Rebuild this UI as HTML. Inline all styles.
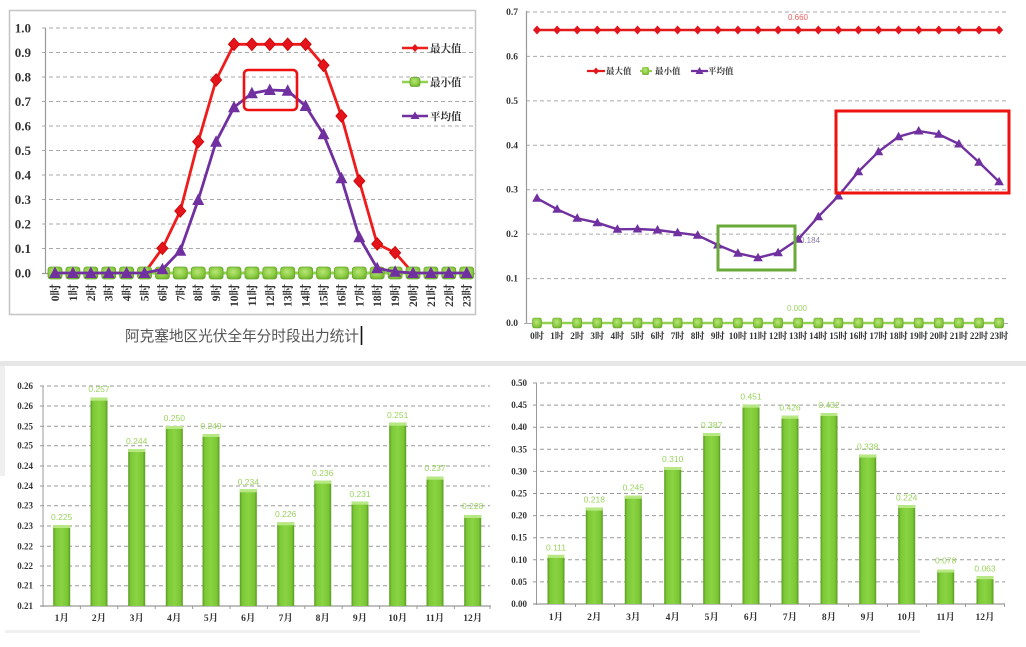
<!DOCTYPE html>
<html><head><meta charset="utf-8"><style>
html,body{margin:0;padding:0;background:#fff;}
svg{display:block;}
.yl{font-family:"Liberation Serif","Noto Serif CJK SC",serif;font-weight:bold;fill:#333;}
.cj{font-family:"Liberation Serif","Noto Serif CJK SC",serif;font-weight:bold;fill:#333;}
.bl{font-family:"Liberation Sans",sans-serif;fill:#9ad35e;font-size:8.5px;text-anchor:middle;}
</style></head><body>
<svg width="1026" height="647" viewBox="0 0 1026 647" xmlns="http://www.w3.org/2000/svg">
<defs>
<linearGradient id="bg" x1="0" x2="1" y1="0" y2="0">
<stop offset="0" stop-color="#5a9c22"/><stop offset="0.15" stop-color="#7cc836"/><stop offset="0.5" stop-color="#8ad444"/><stop offset="0.85" stop-color="#7bc635"/><stop offset="1" stop-color="#589a20"/>
</linearGradient>
<radialGradient id="gm" cx="0.45" cy="0.4" r="0.7">
<stop offset="0" stop-color="#b8e67a"/><stop offset="0.6" stop-color="#8ccc42"/><stop offset="1" stop-color="#68a828"/>
</radialGradient>
</defs>
<rect width="1026" height="647" fill="#fff"/>

<!-- separators / frames -->
<rect x="0" y="361" width="1026" height="5" fill="#e6e6e6"/>
<rect x="0" y="366" width="5" height="110" fill="#efefef"/>
<rect x="5" y="630" width="915" height="3" fill="#f0f0f0"/>

<!-- ================= TOP LEFT ================= -->
<rect x="9.5" y="10.5" width="466" height="304" fill="none" stroke="#c4c4c4" stroke-width="1.5"/>
<g stroke="#aaa" stroke-width="1" stroke-dasharray="4 3">
<line x1="42" y1="248.5" x2="473" y2="248.5"/><line x1="42" y1="224" x2="473" y2="224"/>
<line x1="42" y1="199.5" x2="473" y2="199.5"/><line x1="42" y1="175" x2="473" y2="175"/>
<line x1="42" y1="150.5" x2="473" y2="150.5"/><line x1="42" y1="126" x2="473" y2="126"/>
<line x1="42" y1="101.5" x2="473" y2="101.5"/><line x1="42" y1="77" x2="473" y2="77"/>
<line x1="42" y1="52.5" x2="473" y2="52.5"/><line x1="42" y1="28" x2="473" y2="28"/>
</g>
<line x1="45.5" y1="28" x2="45.5" y2="274" stroke="#999" stroke-width="1.2"/>
<line x1="42" y1="273.5" x2="475" y2="273.5" stroke="#999" stroke-width="1.2"/>
<g class="yl" font-size="13" text-anchor="end">
<text x="31" y="277.5">0.0</text><text x="31" y="253">0.1</text><text x="31" y="228.5">0.2</text>
<text x="31" y="204">0.3</text><text x="31" y="179.5">0.4</text><text x="31" y="155">0.5</text>
<text x="31" y="130.5">0.6</text><text x="31" y="106">0.7</text><text x="31" y="81.5">0.8</text>
<text x="31" y="57">0.9</text><text x="31" y="32.5">1.0</text>
</g>
<!-- red max -->
<polyline fill="none" stroke="#ee1c1c" stroke-width="2.8" stroke-linejoin="round" points="144.5,273 162.4,248.3 180.3,211 198.2,141.7 216.1,80 234,44.3 251.9,44.3 269.8,44.3 287.7,44.3 305.6,44.3 323.5,65.3 341.4,116 359.3,181 377.2,244 395.1,252.7 413,273"/>
<g fill="#e3141c" stroke="#c00" stroke-width="0.8">
<polygon points="162.4,242 168,248.3 162.4,254.6 156.8,248.3"/>
<polygon points="180.3,204.7 185.9,211 180.3,217.3 174.7,211"/>
<polygon points="198.2,135.4 203.8,141.7 198.2,148 192.6,141.7"/>
<polygon points="216.1,73.7 221.7,80 216.1,86.3 210.5,80"/>
<polygon points="234,38 239.6,44.3 234,50.6 228.4,44.3"/>
<polygon points="251.9,38 257.5,44.3 251.9,50.6 246.3,44.3"/>
<polygon points="269.8,38 275.4,44.3 269.8,50.6 264.2,44.3"/>
<polygon points="287.7,38 293.3,44.3 287.7,50.6 282.1,44.3"/>
<polygon points="305.6,38 311.2,44.3 305.6,50.6 300,44.3"/>
<polygon points="323.5,59 329.1,65.3 323.5,71.6 317.9,65.3"/>
<polygon points="341.4,109.7 347,116 341.4,122.3 335.8,116"/>
<polygon points="359.3,174.7 364.9,181 359.3,187.3 353.7,181"/>
<polygon points="377.2,237.7 382.8,244 377.2,250.3 371.6,244"/>
<polygon points="395.1,246.4 400.7,252.7 395.1,259 389.5,252.7"/>
</g>
<!-- green min -->
<line x1="55" y1="273" x2="467" y2="273" stroke="#92d050" stroke-width="3"/>
<g fill="url(#gm)" stroke="#6aa832" stroke-width="0.8">
<rect x="48" y="267" width="14" height="12" rx="2.5"/><rect x="65.9" y="267" width="14" height="12" rx="2.5"/>
<rect x="83.8" y="267" width="14" height="12" rx="2.5"/><rect x="101.7" y="267" width="14" height="12" rx="2.5"/>
<rect x="119.6" y="267" width="14" height="12" rx="2.5"/><rect x="137.5" y="267" width="14" height="12" rx="2.5"/>
<rect x="155.4" y="267" width="14" height="12" rx="2.5"/><rect x="173.3" y="267" width="14" height="12" rx="2.5"/>
<rect x="191.2" y="267" width="14" height="12" rx="2.5"/><rect x="209.1" y="267" width="14" height="12" rx="2.5"/>
<rect x="227" y="267" width="14" height="12" rx="2.5"/><rect x="244.9" y="267" width="14" height="12" rx="2.5"/>
<rect x="262.8" y="267" width="14" height="12" rx="2.5"/><rect x="280.7" y="267" width="14" height="12" rx="2.5"/>
<rect x="298.6" y="267" width="14" height="12" rx="2.5"/><rect x="316.5" y="267" width="14" height="12" rx="2.5"/>
<rect x="334.4" y="267" width="14" height="12" rx="2.5"/><rect x="352.3" y="267" width="14" height="12" rx="2.5"/>
<rect x="370.2" y="267" width="14" height="12" rx="2.5"/><rect x="388.1" y="267" width="14" height="12" rx="2.5"/>
<rect x="406" y="267" width="14" height="12" rx="2.5"/><rect x="423.9" y="267" width="14" height="12" rx="2.5"/>
<rect x="441.8" y="267" width="14" height="12" rx="2.5"/><rect x="459.7" y="267" width="14" height="12" rx="2.5"/>
</g>
<!-- purple avg -->
<polyline fill="none" stroke="#7030a0" stroke-width="2.8" stroke-linejoin="round" points="55,273 72.9,273 90.8,273 108.7,273 126.6,273 144.5,273 162.4,269.3 180.3,250.7 198.2,200 216.1,141.7 234,107.3 251.9,93.3 269.8,90 287.7,90.7 305.6,106 323.5,134.3 341.4,178.3 359.3,237.3 377.2,268.3 395.1,271.7 413,273 430.9,273 448.8,273 466.7,273"/>
<g fill="#7030a0">
<polygon points="55,266.5 61,278 49,278"/><polygon points="72.9,266.5 78.9,278 66.9,278"/>
<polygon points="90.8,266.5 96.8,278 84.8,278"/><polygon points="108.7,266.5 114.7,278 102.7,278"/>
<polygon points="126.6,266.5 132.6,278 120.6,278"/><polygon points="144.5,266.5 150.5,278 138.5,278"/>
<polygon points="162.4,262.8 168.4,274.3 156.4,274.3"/><polygon points="180.3,244.2 186.3,255.7 174.3,255.7"/>
<polygon points="198.2,193.5 204.2,205 192.2,205"/><polygon points="216.1,135.2 222.1,146.7 210.1,146.7"/>
<polygon points="234,100.8 240,112.3 228,112.3"/><polygon points="251.9,86.8 257.9,98.3 245.9,98.3"/>
<polygon points="269.8,83.5 275.8,95 263.8,95"/><polygon points="287.7,84.2 293.7,95.7 281.7,95.7"/>
<polygon points="305.6,99.5 311.6,111 299.6,111"/><polygon points="323.5,127.8 329.5,139.3 317.5,139.3"/>
<polygon points="341.4,171.8 347.4,183.3 335.4,183.3"/><polygon points="359.3,230.8 365.3,242.3 353.3,242.3"/>
<polygon points="377.2,261.8 383.2,273.3 371.2,273.3"/><polygon points="395.1,265.2 401.1,276.7 389.1,276.7"/>
<polygon points="413,266.5 419,278 407,278"/><polygon points="430.9,266.5 436.9,278 424.9,278"/>
<polygon points="448.8,266.5 454.8,278 442.8,278"/><polygon points="466.7,266.5 472.7,278 460.7,278"/>
</g>
<!-- red highlight box -->
<rect x="244" y="70" width="53" height="40" rx="4" fill="none" stroke="#ee1111" stroke-width="2.6"/>
<!-- legend -->
<line x1="402" y1="48" x2="428" y2="48" stroke="#ee1c1c" stroke-width="2.5"/>
<polygon points="415,44 418.5,48 415,52 411.5,48" fill="#e3141c"/>
<line x1="402" y1="82" x2="428" y2="82" stroke="#92d050" stroke-width="2.5"/>
<rect x="410" y="77.5" width="10" height="9" rx="2" fill="url(#gm)" stroke="#6aa832" stroke-width="0.7"/>
<line x1="402" y1="116" x2="428" y2="116" stroke="#7030a0" stroke-width="2.5"/>
<polygon points="415,111.5 419.5,119 410.5,119" fill="#7030a0"/>
<g class="cj" font-size="10.5">
<text x="430" y="52">最大值</text><text x="430" y="86">最小值</text><text x="430" y="120">平均值</text>
</g>
<!-- x labels rotated -->
<g class="cj" font-size="11.5" text-anchor="end">
<text transform="translate(59,284) rotate(-90)">0时</text>
<text transform="translate(76.9,284) rotate(-90)">1时</text>
<text transform="translate(94.8,284) rotate(-90)">2时</text>
<text transform="translate(112.7,284) rotate(-90)">3时</text>
<text transform="translate(130.6,284) rotate(-90)">4时</text>
<text transform="translate(148.5,284) rotate(-90)">5时</text>
<text transform="translate(166.4,284) rotate(-90)">6时</text>
<text transform="translate(184.3,284) rotate(-90)">7时</text>
<text transform="translate(202.2,284) rotate(-90)">8时</text>
<text transform="translate(220.1,284) rotate(-90)">9时</text>
<text transform="translate(238,284) rotate(-90)">10时</text>
<text transform="translate(255.9,284) rotate(-90)">11时</text>
<text transform="translate(273.8,284) rotate(-90)">12时</text>
<text transform="translate(291.7,284) rotate(-90)">13时</text>
<text transform="translate(309.6,284) rotate(-90)">14时</text>
<text transform="translate(327.5,284) rotate(-90)">15时</text>
<text transform="translate(345.4,284) rotate(-90)">16时</text>
<text transform="translate(363.3,284) rotate(-90)">17时</text>
<text transform="translate(381.2,284) rotate(-90)">18时</text>
<text transform="translate(399.1,284) rotate(-90)">19时</text>
<text transform="translate(417,284) rotate(-90)">20时</text>
<text transform="translate(434.9,284) rotate(-90)">21时</text>
<text transform="translate(452.8,284) rotate(-90)">22时</text>
<text transform="translate(470.7,284) rotate(-90)">23时</text>
</g>
<text x="125" y="341" font-family="Liberation Sans,Noto Sans CJK SC,sans-serif" font-size="14.7" fill="#555" textLength="234">阿克塞地区光伏全年分时段出力统计</text>
<line x1="361.5" y1="326" x2="361.5" y2="345" stroke="#111" stroke-width="1.6"/>

<!-- ================= TOP RIGHT ================= -->
<g stroke="#aaa" stroke-width="1" stroke-dasharray="4 3">
<line x1="526" y1="278.6" x2="1007" y2="278.6"/><line x1="526" y1="234.1" x2="1007" y2="234.1"/>
<line x1="526" y1="189.7" x2="1007" y2="189.7"/><line x1="526" y1="145.3" x2="1007" y2="145.3"/>
<line x1="526" y1="100.9" x2="1007" y2="100.9"/><line x1="526" y1="56.4" x2="1007" y2="56.4"/>
<line x1="526" y1="12" x2="1007" y2="12"/>
</g>
<line x1="526.5" y1="11" x2="526.5" y2="324" stroke="#999" stroke-width="1.2"/>
<line x1="524" y1="323.5" x2="1008" y2="323.5" stroke="#aaa" stroke-width="1"/>
<g class="yl" font-size="9.5" text-anchor="end">
<text x="518" y="326">0.0</text><text x="518" y="281.6">0.1</text><text x="518" y="237.1">0.2</text>
<text x="518" y="192.7">0.3</text><text x="518" y="148.3">0.4</text><text x="518" y="103.9">0.5</text>
<text x="518" y="59.4">0.6</text><text x="518" y="15">0.7</text>
</g>
<!-- red constant -->
<line x1="537" y1="30" x2="999" y2="30" stroke="#e21a1a" stroke-width="2.6"/>
<g fill="#e3141c">
<polygon points="537,25.5 541,30 537,34.5 533,30"/><polygon points="557.1,25.5 561.1,30 557.1,34.5 553.1,30"/>
<polygon points="577.2,25.5 581.2,30 577.2,34.5 573.2,30"/><polygon points="597.3,25.5 601.3,30 597.3,34.5 593.3,30"/>
<polygon points="617.4,25.5 621.4,30 617.4,34.5 613.4,30"/><polygon points="637.5,25.5 641.5,30 637.5,34.5 633.5,30"/>
<polygon points="657.5,25.5 661.5,30 657.5,34.5 653.5,30"/><polygon points="677.6,25.5 681.6,30 677.6,34.5 673.6,30"/>
<polygon points="697.7,25.5 701.7,30 697.7,34.5 693.7,30"/><polygon points="717.8,25.5 721.8,30 717.8,34.5 713.8,30"/>
<polygon points="737.9,25.5 741.9,30 737.9,34.5 733.9,30"/><polygon points="758,25.5 762,30 758,34.5 754,30"/>
<polygon points="778.1,25.5 782.1,30 778.1,34.5 774.1,30"/><polygon points="798.2,25.5 802.2,30 798.2,34.5 794.2,30"/>
<polygon points="818.3,25.5 822.3,30 818.3,34.5 814.3,30"/><polygon points="838.4,25.5 842.4,30 838.4,34.5 834.4,30"/>
<polygon points="858.4,25.5 862.4,30 858.4,34.5 854.4,30"/><polygon points="878.5,25.5 882.5,30 878.5,34.5 874.5,30"/>
<polygon points="898.6,25.5 902.6,30 898.6,34.5 894.6,30"/><polygon points="918.7,25.5 922.7,30 918.7,34.5 914.7,30"/>
<polygon points="938.8,25.5 942.8,30 938.8,34.5 934.8,30"/><polygon points="958.9,25.5 962.9,30 958.9,34.5 954.9,30"/>
<polygon points="979,25.5 983,30 979,34.5 975,30"/><polygon points="999.1,25.5 1003.1,30 999.1,34.5 995.1,30"/>
</g>
<text x="798" y="20" font-family="Liberation Sans,sans-serif" font-size="8" fill="#f06060" text-anchor="middle">0.660</text>
<!-- green zero -->
<line x1="537" y1="323" x2="999" y2="323" stroke="#92d050" stroke-width="2.4"/>
<g fill="url(#gm)" stroke="#6aa832" stroke-width="0.6">
<rect x="532.5" y="318" width="9" height="10" rx="2"/><rect x="552.6" y="318" width="9" height="10" rx="2"/>
<rect x="572.7" y="318" width="9" height="10" rx="2"/><rect x="592.8" y="318" width="9" height="10" rx="2"/>
<rect x="612.9" y="318" width="9" height="10" rx="2"/><rect x="633" y="318" width="9" height="10" rx="2"/>
<rect x="653" y="318" width="9" height="10" rx="2"/><rect x="673.1" y="318" width="9" height="10" rx="2"/>
<rect x="693.2" y="318" width="9" height="10" rx="2"/><rect x="713.3" y="318" width="9" height="10" rx="2"/>
<rect x="733.4" y="318" width="9" height="10" rx="2"/><rect x="753.5" y="318" width="9" height="10" rx="2"/>
<rect x="773.6" y="318" width="9" height="10" rx="2"/><rect x="793.7" y="318" width="9" height="10" rx="2"/>
<rect x="813.8" y="318" width="9" height="10" rx="2"/><rect x="833.9" y="318" width="9" height="10" rx="2"/>
<rect x="853.9" y="318" width="9" height="10" rx="2"/><rect x="874" y="318" width="9" height="10" rx="2"/>
<rect x="894.1" y="318" width="9" height="10" rx="2"/><rect x="914.2" y="318" width="9" height="10" rx="2"/>
<rect x="934.3" y="318" width="9" height="10" rx="2"/><rect x="954.4" y="318" width="9" height="10" rx="2"/>
<rect x="974.5" y="318" width="9" height="10" rx="2"/><rect x="994.6" y="318" width="9" height="10" rx="2"/>
</g>
<text x="797" y="311" font-family="Liberation Sans,sans-serif" font-size="8" fill="#9ad35e" text-anchor="middle">0.000</text>
<!-- purple avg -->
<polyline fill="none" stroke="#7030a0" stroke-width="2.4" stroke-linejoin="round" points="537,198.3 557.1,209.3 577.2,218.3 597.3,222.7 617.4,229.3 637.5,229 657.5,230 677.6,232.7 697.7,235.3 717.8,245 737.9,253.3 758,257.7 778.1,252.7 798.2,239.3 818.3,216.7 838.4,196 858.4,171.7 878.5,151.7 898.6,136.7 918.7,131 938.8,134.3 958.9,144 979,162.3 999.1,181.7"/>
<text x="800" y="243" font-family="Liberation Sans,sans-serif" font-size="8" fill="#8a7aa8">0.184</text>
<g fill="#7030a0">
<polygon points="537,193.3 541.8,201.8 532.2,201.8"/><polygon points="557.1,204.3 561.9,212.8 552.3,212.8"/>
<polygon points="577.2,213.3 582,221.8 572.4,221.8"/><polygon points="597.3,217.7 602.1,226.2 592.5,226.2"/>
<polygon points="617.4,224.3 622.2,232.8 612.6,232.8"/><polygon points="637.5,224 642.3,232.5 632.7,232.5"/>
<polygon points="657.5,225 662.3,233.5 652.7,233.5"/><polygon points="677.6,227.7 682.4,236.2 672.8,236.2"/>
<polygon points="697.7,230.3 702.5,238.8 692.9,238.8"/><polygon points="717.8,240 722.6,248.5 713,248.5"/>
<polygon points="737.9,248.3 742.7,256.8 733.1,256.8"/><polygon points="758,252.7 762.8,261.2 753.2,261.2"/>
<polygon points="778.1,247.7 782.9,256.2 773.3,256.2"/><polygon points="798.2,234.3 803,242.8 793.4,242.8"/>
<polygon points="818.3,211.7 823.1,220.2 813.5,220.2"/><polygon points="838.4,191 843.2,199.5 833.6,199.5"/>
<polygon points="858.4,166.7 863.2,175.2 853.6,175.2"/><polygon points="878.5,146.7 883.3,155.2 873.7,155.2"/>
<polygon points="898.6,131.7 903.4,140.2 893.8,140.2"/><polygon points="918.7,126 923.5,134.5 913.9,134.5"/>
<polygon points="938.8,129.3 943.6,137.8 934,137.8"/><polygon points="958.9,139 963.7,147.5 954.1,147.5"/>
<polygon points="979,157.3 983.8,165.8 974.2,165.8"/><polygon points="999.1,176.7 1003.9,185.2 994.3,185.2"/>
</g>
<!-- boxes -->
<rect x="718" y="226" width="77" height="44" fill="none" stroke="#6aaa3a" stroke-width="3"/>
<rect x="836" y="111" width="173" height="82" fill="none" stroke="#ee1111" stroke-width="3"/>
<!-- legend -->
<line x1="587" y1="71" x2="605" y2="71" stroke="#e21a1a" stroke-width="2.2"/>
<polygon points="596,67.5 599,71 596,74.5 593,71" fill="#e3141c"/>
<line x1="640" y1="71" x2="652" y2="71" stroke="#92d050" stroke-width="2.2"/>
<rect x="642" y="67" width="7" height="8" rx="2" fill="url(#gm)"/>
<line x1="691" y1="71" x2="708" y2="71" stroke="#7030a0" stroke-width="2.2"/>
<polygon points="699.5,67 703.5,74 695.5,74" fill="#7030a0"/>
<g class="cj" font-size="8.5">
<text x="606" y="74">最大值</text><text x="655" y="74">最小值</text><text x="708" y="74">平均值</text>
</g>
<g class="cj" font-size="9.2" text-anchor="middle">
<text x="537" y="339">0时</text><text x="557.1" y="339">1时</text><text x="577.2" y="339">2时</text>
<text x="597.3" y="339">3时</text><text x="617.4" y="339">4时</text><text x="637.5" y="339">5时</text>
<text x="657.5" y="339">6时</text><text x="677.6" y="339">7时</text><text x="697.7" y="339">8时</text>
<text x="717.8" y="339">9时</text><text x="737.9" y="339">10时</text><text x="758" y="339">11时</text>
<text x="778.1" y="339">12时</text><text x="798.2" y="339">13时</text><text x="818.3" y="339">14时</text>
<text x="838.4" y="339">15时</text><text x="858.4" y="339">16时</text><text x="878.5" y="339">17时</text>
<text x="898.6" y="339">18时</text><text x="918.7" y="339">19时</text><text x="938.8" y="339">20时</text>
<text x="958.9" y="339">21时</text><text x="979" y="339">22时</text><text x="999.1" y="339">23时</text>
</g>

<!-- ================= BOTTOM LEFT ================= -->
<g stroke="#999" stroke-width="1" stroke-dasharray="4 3">
<line x1="40" y1="386" x2="490" y2="386"/><line x1="40" y1="406" x2="490" y2="406"/>
<line x1="40" y1="426.3" x2="490" y2="426.3"/><line x1="40" y1="445.7" x2="490" y2="445.7"/>
<line x1="40" y1="466" x2="490" y2="466"/><line x1="40" y1="486" x2="490" y2="486"/>
<line x1="40" y1="505.7" x2="490" y2="505.7"/><line x1="40" y1="526" x2="490" y2="526"/>
<line x1="40" y1="546.3" x2="490" y2="546.3"/><line x1="40" y1="566" x2="490" y2="566"/>
<line x1="40" y1="585.7" x2="490" y2="585.7"/>
</g>
<line x1="43" y1="386" x2="43" y2="607" stroke="#999" stroke-width="1"/>
<line x1="40" y1="606" x2="491" y2="606" stroke="#999" stroke-width="1.2"/>
<g stroke="#999" stroke-width="1">
<line x1="80.4" y1="606" x2="80.4" y2="609"/><line x1="117.8" y1="606" x2="117.8" y2="609"/><line x1="155.2" y1="606" x2="155.2" y2="609"/>
<line x1="192.6" y1="606" x2="192.6" y2="609"/><line x1="230" y1="606" x2="230" y2="609"/><line x1="267.4" y1="606" x2="267.4" y2="609"/>
<line x1="304.8" y1="606" x2="304.8" y2="609"/><line x1="342.2" y1="606" x2="342.2" y2="609"/><line x1="379.6" y1="606" x2="379.6" y2="609"/>
<line x1="417" y1="606" x2="417" y2="609"/><line x1="454.4" y1="606" x2="454.4" y2="609"/><line x1="490" y1="606" x2="490" y2="609"/>
</g>
<g class="yl" font-size="9" text-anchor="end">
<text x="33" y="389">0.26</text><text x="33" y="409">0.26</text><text x="33" y="429.3">0.25</text>
<text x="33" y="448.7">0.25</text><text x="33" y="469">0.24</text><text x="33" y="489">0.24</text>
<text x="33" y="508.7">0.23</text><text x="33" y="529">0.23</text><text x="33" y="549.3">0.22</text>
<text x="33" y="569">0.22</text><text x="33" y="588.7">0.21</text><text x="33" y="609">0.21</text>
</g>
<g fill="url(#bg)">
<rect x="53.2" y="525" width="17" height="81"/><rect x="90.5" y="397.7" width="17" height="208.3"/>
<rect x="128.2" y="449" width="17" height="157"/><rect x="165.8" y="426" width="17" height="180"/>
<rect x="202.5" y="434" width="17" height="172"/><rect x="239.8" y="489.3" width="17" height="116.7"/>
<rect x="277.2" y="522.3" width="17" height="83.7"/><rect x="314.2" y="480.7" width="17" height="125.3"/>
<rect x="351.5" y="501.7" width="17" height="104.3"/><rect x="389.2" y="422.7" width="17" height="183.3"/>
<rect x="426.5" y="476.7" width="17" height="129.3"/><rect x="464.2" y="515" width="17" height="91"/>
</g>
<g fill="#b8e884">
<rect x="53.2" y="525" width="17" height="3"/><rect x="90.5" y="397.7" width="17" height="3"/>
<rect x="128.2" y="449" width="17" height="3"/><rect x="165.8" y="426" width="17" height="3"/>
<rect x="202.5" y="434" width="17" height="3"/><rect x="239.8" y="489.3" width="17" height="3"/>
<rect x="277.2" y="522.3" width="17" height="3"/><rect x="314.2" y="480.7" width="17" height="3"/>
<rect x="351.5" y="501.7" width="17" height="3"/><rect x="389.2" y="422.7" width="17" height="3"/>
<rect x="426.5" y="476.7" width="17" height="3"/><rect x="464.2" y="515" width="17" height="3"/>
</g>
<g class="bl">
<text x="61.7" y="520">0.225</text><text x="99" y="392">0.257</text><text x="136.7" y="444">0.244</text>
<text x="174.3" y="421">0.250</text><text x="211" y="429">0.249</text><text x="248.3" y="485">0.234</text>
<text x="285.7" y="517">0.226</text><text x="322.7" y="476">0.236</text><text x="360" y="497">0.231</text>
<text x="397.7" y="418">0.251</text><text x="435" y="471">0.237</text><text x="472.7" y="509">0.228</text>
</g>
<g class="cj" font-size="9.5" text-anchor="middle">
<text x="61.7" y="621">1月</text><text x="99" y="621">2月</text><text x="136.7" y="621">3月</text>
<text x="174.3" y="621">4月</text><text x="211" y="621">5月</text><text x="248.3" y="621">6月</text>
<text x="285.7" y="621">7月</text><text x="322.7" y="621">8月</text><text x="360" y="621">9月</text>
<text x="397.7" y="621">10月</text><text x="435" y="621">11月</text><text x="472.7" y="621">12月</text>
</g>

<!-- ================= BOTTOM RIGHT ================= -->
<g stroke="#999" stroke-width="1" stroke-dasharray="4 3">
<line x1="533" y1="383" x2="1005" y2="383"/><line x1="533" y1="405.1" x2="1005" y2="405.1"/>
<line x1="533" y1="427.2" x2="1005" y2="427.2"/><line x1="533" y1="449.3" x2="1005" y2="449.3"/>
<line x1="533" y1="471.4" x2="1005" y2="471.4"/><line x1="533" y1="493.5" x2="1005" y2="493.5"/>
<line x1="533" y1="515.6" x2="1005" y2="515.6"/><line x1="533" y1="537.7" x2="1005" y2="537.7"/>
<line x1="533" y1="559.8" x2="1005" y2="559.8"/><line x1="533" y1="581.9" x2="1005" y2="581.9"/>
</g>
<line x1="536.5" y1="383" x2="536.5" y2="605" stroke="#999" stroke-width="1"/>
<line x1="533" y1="604" x2="1005" y2="604" stroke="#999" stroke-width="1.2"/>
<g stroke="#999" stroke-width="1">
<line x1="575.5" y1="604" x2="575.5" y2="607"/><line x1="614.5" y1="604" x2="614.5" y2="607"/><line x1="653.5" y1="604" x2="653.5" y2="607"/>
<line x1="692.5" y1="604" x2="692.5" y2="607"/><line x1="731.5" y1="604" x2="731.5" y2="607"/><line x1="770.5" y1="604" x2="770.5" y2="607"/>
<line x1="809.5" y1="604" x2="809.5" y2="607"/><line x1="848.5" y1="604" x2="848.5" y2="607"/><line x1="887.5" y1="604" x2="887.5" y2="607"/>
<line x1="926.5" y1="604" x2="926.5" y2="607"/><line x1="965.5" y1="604" x2="965.5" y2="607"/><line x1="1004.5" y1="604" x2="1004.5" y2="607"/>
</g>
<g class="yl" font-size="9" text-anchor="end">
<text x="527" y="607">0.00</text><text x="527" y="584.9">0.05</text><text x="527" y="562.8">0.10</text>
<text x="527" y="540.7">0.15</text><text x="527" y="518.6">0.20</text><text x="527" y="496.5">0.25</text>
<text x="527" y="474.4">0.30</text><text x="527" y="452.3">0.35</text><text x="527" y="430.2">0.40</text>
<text x="527" y="408.1">0.45</text><text x="527" y="386">0.50</text>
</g>
<g fill="url(#bg)">
<rect x="547.5" y="554.9" width="17" height="49.1"/><rect x="585.8" y="507.6" width="17" height="96.4"/>
<rect x="624.8" y="495.7" width="17" height="108.3"/><rect x="664.2" y="467" width="17" height="137"/>
<rect x="703.2" y="433" width="17" height="171"/><rect x="742.5" y="404.7" width="17" height="199.3"/>
<rect x="781.5" y="415.7" width="17" height="188.3"/><rect x="820.5" y="413" width="17" height="191"/>
<rect x="859.2" y="454.6" width="17" height="149.4"/><rect x="898.2" y="505" width="17" height="99"/>
<rect x="937.2" y="569.5" width="17" height="34.5"/><rect x="976.5" y="576.2" width="17" height="27.8"/>
</g>
<g fill="#b8e884">
<rect x="547.5" y="554.9" width="17" height="3"/><rect x="585.8" y="507.6" width="17" height="3"/>
<rect x="624.8" y="495.7" width="17" height="3"/><rect x="664.2" y="467" width="17" height="3"/>
<rect x="703.2" y="433" width="17" height="3"/><rect x="742.5" y="404.7" width="17" height="3"/>
<rect x="781.5" y="415.7" width="17" height="3"/><rect x="820.5" y="413" width="17" height="3"/>
<rect x="859.2" y="454.6" width="17" height="3"/><rect x="898.2" y="505" width="17" height="3"/>
<rect x="937.2" y="569.5" width="17" height="3"/><rect x="976.5" y="576.2" width="17" height="3"/>
</g>
<g class="bl">
<text x="556" y="550.3">0.111</text><text x="594.3" y="502.3">0.218</text><text x="633.3" y="490.7">0.245</text>
<text x="672.7" y="462">0.310</text><text x="711.7" y="428">0.387</text><text x="751" y="399.7">0.451</text>
<text x="790" y="410.3">0.426</text><text x="829" y="408">0.432</text><text x="867.7" y="449.7">0.338</text>
<text x="906.7" y="500.7">0.224</text><text x="945.7" y="563.7">0.078</text><text x="985" y="571.3">0.063</text>
</g>
<g class="cj" font-size="9.5" text-anchor="middle">
<text x="556" y="620">1月</text><text x="594.3" y="620">2月</text><text x="633.3" y="620">3月</text>
<text x="672.7" y="620">4月</text><text x="711.7" y="620">5月</text><text x="751" y="620">6月</text>
<text x="790" y="620">7月</text><text x="829" y="620">8月</text><text x="867.7" y="620">9月</text>
<text x="906.7" y="620">10月</text><text x="945.7" y="620">11月</text><text x="985" y="620">12月</text>
</g>
</svg>
</body></html>
